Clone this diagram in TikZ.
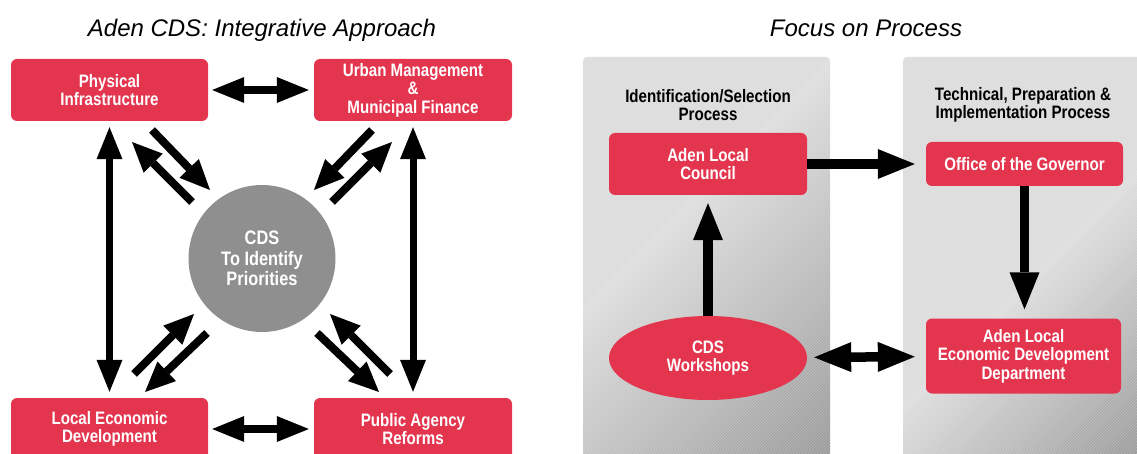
\documentclass[tikz,border=0pt]{standalone}
\usepackage{fontspec}
\setmainfont{Liberation Sans}
\newfontfamily\boxfont[FakeStretch=0.84]{Liberation Sans}
\usetikzlibrary{arrows.meta,shapes.geometric}
\definecolor{boxred}{HTML}{E4354F}
\definecolor{circgray}{HTML}{8F8F8F}
\definecolor{panellight}{HTML}{DEDEDE}
\definecolor{paneldark}{HTML}{989898}
\tikzset{
  redbox/.style={fill=boxred, rounded corners=6pt, inner sep=0pt, text=white, align=center,
    font=\boxfont\bfseries\fontsize{18}{18.5}\selectfont},
  hdr/.style={inner sep=0pt, text=black, align=center,
    font=\boxfont\bfseries\fontsize{18}{18.5}\selectfont},
  ttl/.style={inner sep=0pt, anchor=base, font=\itshape\fontsize{24}{28}\selectfont},
  tipL/.tip={Triangle[length=32pt,width=26pt,line width=0pt]},
  tipD/.tip={Triangle[length=30pt,width=27pt,line width=0pt]},
  tipR/.tip={Triangle[length=37pt,width=30pt,line width=0pt]},
  dblarrow/.style={line width=8pt, tipL-tipL},
  vdblarrow/.style={line width=7pt, tipL-tipL},
  diagarrow/.style={line width=8pt, -tipD},
  rarrow/.style={line width=9.5pt, -tipR},
  rdblarrow/.style={line width=9.5pt, tipR-tipR},
}
\begin{document}
\begin{tikzpicture}[x=1pt,y=-1pt]
\useasboundingbox (0,0) rectangle (1137,454);
\clip (0,0) rectangle (1137,454);
% ---------- panels (background) ----------
\begin{scope}
  \clip[rounded corners=4pt] (583,470) -- (583,57) -- (830,57) -- (830,470) -- cycle;
  \fill[panellight] (583,50) rectangle (830,470);
  \foreach \c in {890,893,...,1300}{
    \pgfmathsetmacro\p{min(100,(\c-890)/394*100)}
    \fill[paneldark!\p!panellight] (500,\c-500) -- (1250,\c-1250) -- (1250,\c+3.3-1250) -- (500,\c+3.3-500) -- cycle;
    \draw[white, opacity=0.2, line width=0.7pt] (500,\c-500) -- (1250,\c-1250);
  }
\end{scope}
\begin{scope}
  \clip[rounded corners=4pt] (903,470) -- (903,57) -- (1150,57) -- (1150,470) -- cycle;
  \fill[panellight] (903,50) rectangle (1150,470);
  \foreach \c in {1308,1311,...,1610}{
    \pgfmathsetmacro\p{min(100,(\c-1308)/290*100)}
    \fill[paneldark!\p!panellight] (800,\c-800) -- (1300,\c-1300) -- (1300,\c+3.3-1300) -- (800,\c+3.3-800) -- cycle;
    \draw[white, opacity=0.2, line width=0.7pt] (800,\c-800) -- (1300,\c-1300);
  }
\end{scope}
% ---------- titles ----------
\node[ttl] (t1) at (262,36.5) {Aden CDS: Integrative Approach};
\node[ttl] (t2) at (866,36.5) {Focus on Process};
% ---------- left diagram ----------
\node[redbox, minimum width=197pt, minimum height=62pt] (phys) at (109.5,90) {Physical\\Infrastructure};
\node[redbox, minimum width=198pt, minimum height=62pt] (urban) at (413,90) {Urban Management\\\&\\Municipal Finance};
\node[redbox, minimum width=197pt, minimum height=62pt] (led) at (109.5,429) {Local Economic\\Development};
\node[redbox, minimum width=198pt, minimum height=62pt] (par) at (413,429) {Public Agency\\Reforms};
\node[circle, fill=circgray, minimum size=147pt, inner sep=0pt, text=white, align=center,
  font=\boxfont\bfseries\fontsize{19.5}{20.5}\selectfont] (cds) at (262,258.5) {CDS\\To Identify\\Priorities};

\draw[dblarrow, shorten <=4pt, shorten >=5pt] (phys) -- (urban);
\draw[dblarrow, shorten <=4pt, shorten >=5pt] (led) -- (par);
\draw[vdblarrow, shorten <=6pt, shorten >=6pt] (phys) -- (led);
\draw[vdblarrow, shorten <=6pt, shorten >=6pt] (urban) -- (par);

\coordinate (a1s) at (152,130); \coordinate (a1e) at (210,190);
\coordinate (a2s) at (192,202); \coordinate (a2e) at (132,142);
\coordinate (a3s) at (372,130); \coordinate (a3e) at (314,190);
\coordinate (a4s) at (332,202); \coordinate (a4e) at (392,142);
\coordinate (a5s) at (134,374); \coordinate (a5e) at (194,314);
\coordinate (a6s) at (207,333); \coordinate (a6e) at (145,392);
\coordinate (a7s) at (317,333); \coordinate (a7e) at (379,392);
\coordinate (a8s) at (390,374); \coordinate (a8e) at (330,314);
\draw[diagarrow] (a1s) -- (a1e);
\draw[diagarrow] (a2s) -- (a2e);
\draw[diagarrow] (a3s) -- (a3e);
\draw[diagarrow] (a4s) -- (a4e);
\draw[diagarrow] (a5s) -- (a5e);
\draw[diagarrow] (a6s) -- (a6e);
\draw[diagarrow] (a7s) -- (a7e);
\draw[diagarrow] (a8s) -- (a8e);
% ---------- right diagram ----------
\node[hdr] (h1) at (708,105) {Identification/Selection\\Process};
\node[hdr] (h2) at (1023,105) {Technical, Preparation \&\\Implementation Process};
\node[redbox, minimum width=198pt, minimum height=62pt] (council) at (708,164) {Aden Local\\Council};
\node[redbox, minimum width=197pt, minimum height=44pt] (gov) at (1024.5,164) {Office of the Governor};
\node[redbox, minimum width=195pt, minimum height=75pt] (dept) at (1023.5,356) {Aden Local\\Economic Development\\Department};
\node[ellipse, fill=boxred, minimum width=198pt, minimum height=84pt, inner sep=0pt, text=white, align=center,
  font=\boxfont\bfseries\fontsize{18}{18.5}\selectfont] (ws) at (708,358) {CDS\\Workshops};

\draw[rarrow, shorten >=11pt] (council) -- (gov);
\draw[rarrow, shorten >=8pt] (ws) -- (council);
\draw[rarrow, shorten >=9pt] (gov.south) -- (dept.north -| gov.south);
\draw[rdblarrow, shorten <=7pt, shorten >=11pt] (ws) -- (dept);
\end{tikzpicture}
\end{document}
